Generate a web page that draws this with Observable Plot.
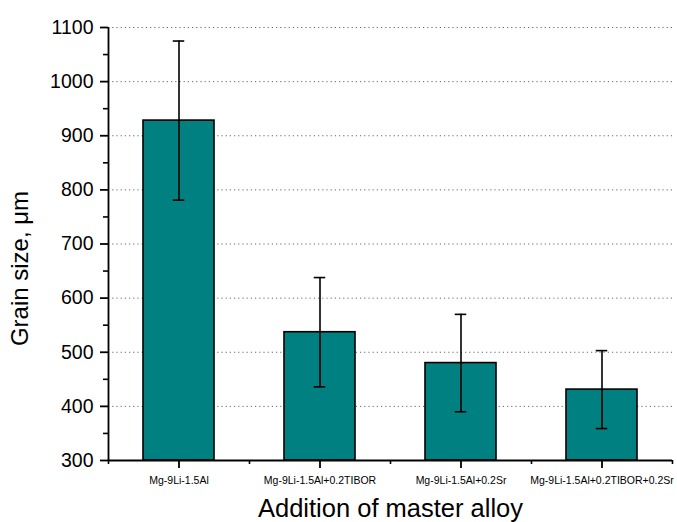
<!DOCTYPE html>
<html>
<head>
<meta charset="utf-8">
<script src="https://cdn.jsdelivr.net/npm/d3@7"></script>
<script src="https://cdn.jsdelivr.net/npm/@observablehq/plot@0.6"></script>
<style>
  html, body { margin: 0; padding: 0; background: #fff; }
</style>
</head>
<body>
<div id="chart"></div>
<script>
const categories = ["Mg-9Li-1.5Al", "Mg-9Li-1.5Al+0.2TIBOR", "Mg-9Li-1.5Al+0.2Sr", "Mg-9Li-1.5Al+0.2TIBOR+0.2Sr"];
const grainSize = [928, 537, 480, 431];
const grainError = [147, 101, 90, 72];
const yTicks = [300, 400, 500, 600, 700, 800, 900, 1000, 1100];
const yMinorTicks = [350, 450, 550, 650, 750, 850, 950, 1050];
const yDomain = [300, 1100];
const xTitle = "Addition of master alloy";
const yTitle = "Grain size, \u03bcm";

const data = categories.map((c, i) => ({cat: c, v: grainSize[i], e: grainError[i]}));

const W = 677, H = 522;
const mL = 108, mR = 5, mT = 27, mB = 62;
const frameW = W - mL - mR, frameH = H - mT - mB;
const step = frameW / categories.length;
const bw = step * 0.5;
const capW = 11;
const ink = "#000";
const teal = "#008080";

const chart = Plot.plot({
  width: W,
  height: H,
  marginLeft: mL,
  marginRight: mR,
  marginTop: mT,
  marginBottom: mB,
  style: {fontFamily: "'Liberation Sans', Arial, sans-serif", background: "#fff", color: "#000"},
  x: {domain: categories, paddingInner: 0.5, paddingOuter: 0.25, axis: null},
  y: {domain: yDomain, axis: null},
  marks: [
    Plot.gridY(yTicks.slice(1), {stroke: "#666", strokeOpacity: 1, strokeWidth: 1, strokeDasharray: "1.2,3"}),
    Plot.barY(data, {x: "cat", y1: () => yDomain[0], y2: "v", fill: teal, stroke: ink, strokeWidth: 1.6}),
    Plot.ruleX(data, {x: "cat", y1: d => d.v - d.e, y2: d => d.v + d.e, stroke: ink, strokeWidth: 1.6}),
    Plot.tickY(data, {x: "cat", y: d => d.v + d.e, stroke: ink, strokeWidth: 1.6, insetLeft: (bw - capW) / 2, insetRight: (bw - capW) / 2}),
    Plot.tickY(data, {x: "cat", y: d => d.v - d.e, stroke: ink, strokeWidth: 1.6, insetLeft: (bw - capW) / 2, insetRight: (bw - capW) / 2}),
    // left axis line (full frame height at the first band edge)
    Plot.tickX(categories.slice(0, 1), {x: d => d, dx: -step / 2, stroke: ink, strokeWidth: 1.8}),
    // minor x ticks at band edges
    Plot.tickX(categories, {x: d => d, dx: -step / 2, stroke: ink, strokeWidth: 1.6, insetTop: frameH, insetBottom: -4}),
    Plot.tickX(categories.slice(-1), {x: d => d, dx: step / 2, stroke: ink, strokeWidth: 1.6, insetTop: frameH, insetBottom: -4}),
    Plot.axisY({ticks: yMinorTicks, tickSize: 5, tickFormat: () => "", label: null, strokeWidth: 1.6}),
    Plot.axisY({ticks: yTicks, tickSize: 8, tickPadding: 7, fontSize: 19.5, tickFormat: d3.format("d"), label: null, strokeWidth: 1.8}),
    Plot.ruleY([yDomain[0]], {stroke: ink, strokeWidth: 1.8}),
    Plot.axisX({tickSize: 8, tickPadding: 8.5, fontSize: 10.5, label: null, strokeWidth: 1.8}),
    Plot.text([xTitle], {frameAnchor: "bottom", textAnchor: "middle", lineAnchor: "middle", dy: 48, fontSize: 25.5, fill: ink}),
    Plot.text([yTitle], {frameAnchor: "left", textAnchor: "middle", lineAnchor: "middle", rotate: -90, dx: -88, dy: 24.5, fontSize: 24, fill: ink})
  ]
});
document.getElementById("chart").appendChild(chart);
</script>
</body>
</html>
